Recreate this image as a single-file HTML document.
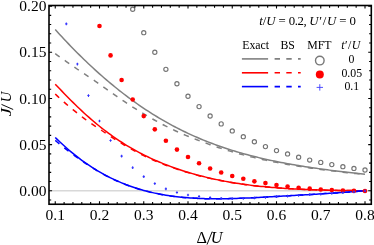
<!DOCTYPE html>
<html><head><meta charset="utf-8"><title>plot</title>
<style>html,body{margin:0;padding:0;background:#fff;}body{width:374px;height:245px;overflow:hidden;}svg{display:block;will-change:transform;}text{font-family:"Liberation Serif",serif;fill:#000;}</style>
</head><body>
<svg width="374" height="245" viewBox="0 0 374 245">
<rect width="374" height="245" fill="#fff"/>
<clipPath id="c"><rect x="49.0" y="5.5" width="322.3" height="198.75"/></clipPath>
<line x1="49.0" y1="190.85" x2="371.3" y2="190.85" stroke="#c4c4c4" stroke-width="1"/>
<g clip-path="url(#c)" fill="none" stroke-width="1.5">
<path d="M55.25,29.58 L57.46,32.02 L59.67,34.44 L61.89,36.84 L64.10,39.21 L66.31,41.55 L68.53,43.87 L70.74,46.17 L72.95,48.44 L75.16,50.69 L77.38,52.91 L79.59,55.11 L81.80,57.29 L84.01,59.44 L86.22,61.57 L88.44,63.67 L90.65,65.75 L92.86,67.80 L95.07,69.83 L97.29,71.84 L99.50,73.82 L101.71,75.78 L103.93,77.71 L106.14,79.62 L108.35,81.50 L110.56,83.36 L112.78,85.19 L114.99,87.00 L117.20,88.79 L119.41,90.55 L121.62,92.28 L123.84,94.00 L126.05,95.68 L128.26,97.35 L130.48,98.98 L132.69,100.60 L134.90,102.19 L137.11,103.75 L139.33,105.29 L141.54,106.81 L143.75,108.30 L145.96,109.77 L148.18,111.21 L150.39,112.63 L152.60,114.03 L154.81,115.41 L157.03,116.76 L159.24,118.08 L161.45,119.39 L163.66,120.67 L165.88,121.93 L168.09,123.17 L170.30,124.38 L172.51,125.58 L174.73,126.75 L176.94,127.90 L179.15,129.03 L181.36,130.13 L183.58,131.22 L185.79,132.28 L188.00,133.33 L190.21,134.35 L192.43,135.36 L194.64,136.35 L196.85,137.31 L199.06,138.26 L201.28,139.19 L203.49,140.10 L205.70,140.99 L207.91,141.86 L210.13,142.72 L212.34,143.56 L214.55,144.38 L216.76,145.18 L218.97,145.97 L221.19,146.74 L223.40,147.50 L225.61,148.24 L227.83,148.96 L230.04,149.67 L232.25,150.36 L234.46,151.04 L236.68,151.71 L238.89,152.36 L241.10,153.00 L243.31,153.62 L245.53,154.23 L247.74,154.83 L249.95,155.41 L252.16,155.99 L254.38,156.55 L256.59,157.09 L258.80,157.63 L261.01,158.16 L263.23,158.67 L265.44,159.17 L267.65,159.67 L269.86,160.15 L272.07,160.62 L274.29,161.09 L276.50,161.54 L278.71,161.98 L280.93,162.42 L283.14,162.84 L285.35,163.26 L287.56,163.67 L289.77,164.07 L291.99,164.46 L294.20,164.85 L296.41,165.22 L298.62,165.59 L300.84,165.96 L303.05,166.31 L305.26,166.66 L307.48,167.00 L309.69,167.34 L311.90,167.67 L314.11,168.00 L316.32,168.31 L318.54,168.63 L320.75,168.94 L322.96,169.24 L325.18,169.54 L327.39,169.83 L329.60,170.12 L331.81,170.41 L334.02,170.69 L336.24,170.97 L338.45,171.24 L340.66,171.51 L342.88,171.77 L345.09,172.04 L347.30,172.30 L349.51,172.55 L351.73,172.81 L353.94,173.06 L356.15,173.31 L358.36,173.55 L360.58,173.80 L362.79,174.04 L365.00,174.28" stroke="#808080"/>
<path d="M55.25,53.71 L57.46,55.29 L59.67,56.87 L61.89,58.44 L64.10,60.00 L66.31,61.55 L68.53,63.10 L70.74,64.64 L72.95,66.18 L75.16,67.72 L77.38,69.25 L79.59,70.76 L81.80,72.24 L84.01,73.70 L86.22,75.16 L88.44,76.63 L90.65,78.11 L92.86,79.60 L95.07,81.11 L97.29,82.65 L99.50,84.21 L101.71,85.79 L103.93,87.37 L106.14,88.95 L108.35,90.52 L110.56,92.08 L112.78,93.64 L114.99,95.18 L117.20,96.72 L119.41,98.24 L121.62,99.75 L123.84,101.24 L126.05,102.72 L128.26,104.18 L130.48,105.62 L132.69,107.04 L134.90,108.45 L137.11,109.83 L139.33,111.20 L141.54,112.54 L143.75,113.87 L145.96,115.17 L148.18,116.47 L150.39,117.74 L152.60,119.00 L154.81,120.24 L157.03,121.46 L159.24,122.66 L161.45,123.84 L163.66,125.00 L165.88,126.14 L168.09,127.25 L170.30,128.34 L172.51,129.41 L174.73,130.46 L176.94,131.48 L179.15,132.48 L181.36,133.46 L183.58,134.41 L185.79,135.35 L188.00,136.26 L190.21,137.17 L192.43,138.05 L194.64,138.92 L196.85,139.78 L199.06,140.62 L201.28,141.46 L203.49,142.28 L205.70,143.08 L207.91,143.88 L210.13,144.67 L212.34,145.44 L214.55,146.20 L216.76,146.95 L218.97,147.68 L221.19,148.40 L223.40,149.11 L225.61,149.80 L227.83,150.48 L230.04,151.14 L232.25,151.80 L234.46,152.44 L236.68,153.06 L238.89,153.68 L241.10,154.28 L243.31,154.87 L245.53,155.45 L247.74,156.01 L249.95,156.57 L252.16,157.11 L254.38,157.64 L256.59,158.16 L258.80,158.67 L261.01,159.17 L263.23,159.65 L265.44,160.13 L267.65,160.60 L269.86,161.06 L272.07,161.51 L274.29,161.94 L276.50,162.37 L278.71,162.79 L280.93,163.21 L283.14,163.61 L285.35,164.01 L287.56,164.39 L289.77,164.77 L291.99,165.15 L294.20,165.51 L296.41,165.87 L298.62,166.23 L300.84,166.57 L303.05,166.91 L305.26,167.24 L307.48,167.57 L309.69,167.89 L311.90,168.21 L314.11,168.52 L316.32,168.82 L318.54,169.12 L320.75,169.42 L322.96,169.71 L325.18,169.99 L327.39,170.28 L329.60,170.55 L331.81,170.83 L334.02,171.10 L336.24,171.36 L338.45,171.62 L340.66,171.88 L342.88,172.14 L345.09,172.39 L347.30,172.64 L349.51,172.89 L351.73,173.14 L353.94,173.38 L356.15,173.62 L358.36,173.86 L360.58,174.09 L362.79,174.33 L365.00,174.56" stroke="#808080" stroke-dasharray="5.4 6.3"/>
<path d="M55.25,84.25 L57.46,86.55 L59.67,88.85 L61.89,91.14 L64.10,93.42 L66.31,95.69 L68.53,97.93 L70.74,100.16 L72.95,102.36 L75.16,104.53 L77.38,106.68 L79.59,108.80 L81.80,110.88 L84.01,112.93 L86.22,114.95 L88.44,116.93 L90.65,118.87 L92.86,120.78 L95.07,122.65 L97.29,124.49 L99.50,126.29 L101.71,128.05 L103.93,129.77 L106.14,131.46 L108.35,133.11 L110.56,134.72 L112.78,136.29 L114.99,137.83 L117.20,139.34 L119.41,140.81 L121.62,142.25 L123.84,143.65 L126.05,145.02 L128.26,146.35 L130.48,147.66 L132.69,148.93 L134.90,150.18 L137.11,151.39 L139.33,152.57 L141.54,153.73 L143.75,154.85 L145.96,155.95 L148.18,157.02 L150.39,158.07 L152.60,159.09 L154.81,160.08 L157.03,161.06 L159.24,162.00 L161.45,162.92 L163.66,163.82 L165.88,164.70 L168.09,165.56 L170.30,166.39 L172.51,167.20 L174.73,168.00 L176.94,168.77 L179.15,169.52 L181.36,170.25 L183.58,170.97 L185.79,171.66 L188.00,172.34 L190.21,173.00 L192.43,173.64 L194.64,174.27 L196.85,174.88 L199.06,175.47 L201.28,176.04 L203.49,176.60 L205.70,177.14 L207.91,177.67 L210.13,178.18 L212.34,178.68 L214.55,179.17 L216.76,179.64 L218.97,180.09 L221.19,180.53 L223.40,180.96 L225.61,181.37 L227.83,181.77 L230.04,182.16 L232.25,182.54 L234.46,182.90 L236.68,183.25 L238.89,183.59 L241.10,183.92 L243.31,184.24 L245.53,184.54 L247.74,184.84 L249.95,185.12 L252.16,185.39 L254.38,185.66 L256.59,185.91 L258.80,186.15 L261.01,186.39 L263.23,186.61 L265.44,186.83 L267.65,187.04 L269.86,187.24 L272.07,187.43 L274.29,187.61 L276.50,187.78 L278.71,187.95 L280.93,188.11 L283.14,188.27 L285.35,188.41 L287.56,188.55 L289.77,188.69 L291.99,188.81 L294.20,188.93 L296.41,189.05 L298.62,189.16 L300.84,189.26 L303.05,189.36 L305.26,189.46 L307.48,189.55 L309.69,189.63 L311.90,189.72 L314.11,189.79 L316.32,189.87 L318.54,189.93 L320.75,190.00 L322.96,190.06 L325.18,190.12 L327.39,190.17 L329.60,190.23 L331.81,190.27 L334.02,190.32 L336.24,190.36 L338.45,190.40 L340.66,190.44 L342.88,190.47 L345.09,190.51 L347.30,190.54 L349.51,190.56 L351.73,190.59 L353.94,190.61 L356.15,190.63 L358.36,190.65 L360.58,190.67 L362.79,190.68 L365.00,190.69" stroke="#ff0000"/>
<path d="M55.25,93.99 L57.46,96.12 L59.67,98.19 L61.89,100.21 L64.10,102.18 L66.31,104.11 L68.53,105.99 L70.74,107.84 L72.95,109.66 L75.16,111.45 L77.38,113.22 L79.59,114.96 L81.80,116.68 L84.01,118.38 L86.22,120.01 L88.44,121.57 L90.65,123.08 L92.86,124.57 L95.07,126.05 L97.29,127.53 L99.50,129.02 L101.71,130.50 L103.93,132.00 L106.14,133.49 L108.35,134.98 L110.56,136.44 L112.78,137.88 L114.99,139.30 L117.20,140.69 L119.41,142.06 L121.62,143.41 L123.84,144.74 L126.05,146.04 L128.26,147.33 L130.48,148.59 L132.69,149.82 L134.90,151.04 L137.11,152.22 L139.33,153.38 L141.54,154.52 L143.75,155.63 L145.96,156.71 L148.18,157.76 L150.39,158.79 L152.60,159.79 L154.81,160.76 L157.03,161.70 L159.24,162.62 L161.45,163.52 L163.66,164.38 L165.88,165.23 L168.09,166.05 L170.30,166.85 L172.51,167.64 L174.73,168.40 L176.94,169.14 L179.15,169.87 L181.36,170.58 L183.58,171.28 L185.79,171.96 L188.00,172.62 L190.21,173.27 L192.43,173.90 L194.64,174.51 L196.85,175.11 L199.06,175.69 L201.28,176.26 L203.49,176.81 L205.70,177.34 L207.91,177.86 L210.13,178.37 L212.34,178.86 L214.55,179.33 L216.76,179.80 L218.97,180.25 L221.19,180.68 L223.40,181.10 L225.61,181.51 L227.83,181.91 L230.04,182.29 L232.25,182.66 L234.46,183.02 L236.68,183.37 L238.89,183.71 L241.10,184.03 L243.31,184.34 L245.53,184.65 L247.74,184.94 L249.95,185.22 L252.16,185.49 L254.38,185.75 L256.59,186.00 L258.80,186.24 L261.01,186.47 L263.23,186.70 L265.44,186.91 L267.65,187.11 L269.86,187.31 L272.07,187.50 L274.29,187.68 L276.50,187.85 L278.71,188.02 L280.93,188.18 L283.14,188.33 L285.35,188.47 L287.56,188.61 L289.77,188.74 L291.99,188.87 L294.20,188.99 L296.41,189.10 L298.62,189.21 L300.84,189.32 L303.05,189.41 L305.26,189.51 L307.48,189.60 L309.69,189.68 L311.90,189.76 L314.11,189.84 L316.32,189.91 L318.54,189.98 L320.75,190.04 L322.96,190.10 L325.18,190.16 L327.39,190.21 L329.60,190.26 L331.81,190.31 L334.02,190.36 L336.24,190.40 L338.45,190.44 L340.66,190.47 L342.88,190.51 L345.09,190.54 L347.30,190.57 L349.51,190.59 L351.73,190.62 L353.94,190.64 L356.15,190.66 L358.36,190.68 L360.58,190.70 L362.79,190.71 L365.00,190.72" stroke="#ff0000" stroke-dasharray="5.4 6.3"/>
<path d="M55.25,137.42 L57.46,139.59 L59.67,141.71 L61.89,143.78 L64.10,145.81 L66.31,147.78 L68.53,149.71 L70.74,151.58 L72.95,153.42 L75.16,155.20 L77.38,156.94 L79.59,158.63 L81.80,160.28 L84.01,161.88 L86.22,163.44 L88.44,164.95 L90.65,166.43 L92.86,167.86 L95.07,169.24 L97.29,170.59 L99.50,171.90 L101.71,173.16 L103.93,174.39 L106.14,175.58 L108.35,176.73 L110.56,177.84 L112.78,178.92 L114.99,179.96 L117.20,180.96 L119.41,181.93 L121.62,182.86 L123.84,183.76 L126.05,184.63 L128.26,185.46 L130.48,186.26 L132.69,187.03 L134.90,187.77 L137.11,188.48 L139.33,189.16 L141.54,189.81 L143.75,190.43 L145.96,191.02 L148.18,191.59 L150.39,192.13 L152.60,192.64 L154.81,193.13 L157.03,193.59 L159.24,194.03 L161.45,194.44 L163.66,194.84 L165.88,195.21 L168.09,195.55 L170.30,195.88 L172.51,196.18 L174.73,196.47 L176.94,196.73 L179.15,196.98 L181.36,197.21 L183.58,197.42 L185.79,197.61 L188.00,197.78 L190.21,197.94 L192.43,198.08 L194.64,198.21 L196.85,198.33 L199.06,198.43 L201.28,198.51 L203.49,198.58 L205.70,198.64 L207.91,198.69 L210.13,198.73 L212.34,198.75 L214.55,198.77 L216.76,198.77 L218.97,198.76 L221.19,198.75 L223.40,198.73 L225.61,198.69 L227.83,198.65 L230.04,198.61 L232.25,198.55 L234.46,198.49 L236.68,198.42 L238.89,198.35 L241.10,198.27 L243.31,198.18 L245.53,198.09 L247.74,198.00 L249.95,197.90 L252.16,197.80 L254.38,197.69 L256.59,197.58 L258.80,197.47 L261.01,197.36 L263.23,197.24 L265.44,197.12 L267.65,197.00 L269.86,196.87 L272.07,196.75 L274.29,196.62 L276.50,196.49 L278.71,196.37 L280.93,196.24 L283.14,196.11 L285.35,195.98 L287.56,195.85 L289.77,195.71 L291.99,195.58 L294.20,195.45 L296.41,195.32 L298.62,195.19 L300.84,195.05 L303.05,194.92 L305.26,194.79 L307.48,194.66 L309.69,194.52 L311.90,194.39 L314.11,194.26 L316.32,194.13 L318.54,193.99 L320.75,193.86 L322.96,193.72 L325.18,193.59 L327.39,193.45 L329.60,193.31 L331.81,193.17 L334.02,193.03 L336.24,192.89 L338.45,192.74 L340.66,192.59 L342.88,192.44 L345.09,192.29 L347.30,192.13 L349.51,191.97 L351.73,191.80 L353.94,191.63 L356.15,191.46 L358.36,191.28 L360.58,191.09 L362.79,190.90 L365.00,190.70" stroke="#0000ff"/>
<path d="M55.25,140.39 L57.46,142.24 L59.67,144.07 L61.89,145.87 L64.10,147.64 L66.31,149.38 L68.53,151.10 L70.74,152.78 L72.95,154.42 L75.16,156.04 L77.38,157.64 L79.59,159.21 L81.80,160.77 L84.01,162.30 L86.22,163.81 L88.44,165.28 L90.65,166.72 L92.86,168.12 L95.07,169.48 L97.29,170.81 L99.50,172.09 L101.71,173.34 L103.93,174.55 L106.14,175.72 L108.35,176.86 L110.56,177.96 L112.78,179.03 L114.99,180.06 L117.20,181.05 L119.41,182.02 L121.62,182.94 L123.84,183.84 L126.05,184.70 L128.26,185.53 L130.48,186.33 L132.69,187.09 L134.90,187.83 L137.11,188.53 L139.33,189.21 L141.54,189.86 L143.75,190.48 L145.96,191.07 L148.18,191.63 L150.39,192.17 L152.60,192.68 L154.81,193.17 L157.03,193.63 L159.24,194.07 L161.45,194.48 L163.66,194.87 L165.88,195.24 L168.09,195.59 L170.30,195.91 L172.51,196.21 L174.73,196.50 L176.94,196.76 L179.15,197.01 L181.36,197.23 L183.58,197.44 L185.79,197.63 L188.00,197.81 L190.21,197.97 L192.43,198.11 L194.64,198.24 L196.85,198.35 L199.06,198.45 L201.28,198.53 L203.49,198.61 L205.70,198.67 L207.91,198.71 L210.13,198.75 L212.34,198.77 L214.55,198.79 L216.76,198.79 L218.97,198.78 L221.19,198.77 L223.40,198.74 L225.61,198.71 L227.83,198.67 L230.04,198.62 L232.25,198.57 L234.46,198.51 L236.68,198.44 L238.89,198.36 L241.10,198.28 L243.31,198.20 L245.53,198.11 L247.74,198.01 L249.95,197.92 L252.16,197.81 L254.38,197.71 L256.59,197.60 L258.80,197.48 L261.01,197.37 L263.23,197.25 L265.44,197.13 L267.65,197.01 L269.86,196.89 L272.07,196.76 L274.29,196.63 L276.50,196.51 L278.71,196.38 L280.93,196.25 L283.14,196.12 L285.35,195.99 L287.56,195.86 L289.77,195.73 L291.99,195.59 L294.20,195.46 L296.41,195.33 L298.62,195.20 L300.84,195.06 L303.05,194.93 L305.26,194.80 L307.48,194.67 L309.69,194.53 L311.90,194.40 L314.11,194.27 L316.32,194.14 L318.54,194.00 L320.75,193.87 L322.96,193.73 L325.18,193.60 L327.39,193.46 L329.60,193.32 L331.81,193.18 L334.02,193.04 L336.24,192.90 L338.45,192.75 L340.66,192.60 L342.88,192.45 L345.09,192.30 L347.30,192.14 L349.51,191.98 L351.73,191.81 L353.94,191.64 L356.15,191.47 L358.36,191.29 L360.58,191.10 L362.79,190.91 L365.00,190.71" stroke="#0000ff" stroke-dasharray="5.4 6.3"/>
</g>
<g clip-path="url(#c)">
<circle cx="132.69" cy="9.28" r="2.1" fill="#fff" stroke="#747474" stroke-width="1.15"/>
<circle cx="143.75" cy="32.66" r="2.1" fill="#fff" stroke="#747474" stroke-width="1.15"/>
<circle cx="154.81" cy="52.24" r="2.1" fill="#fff" stroke="#747474" stroke-width="1.15"/>
<circle cx="165.88" cy="69.32" r="2.1" fill="#fff" stroke="#747474" stroke-width="1.15"/>
<circle cx="176.94" cy="83.79" r="2.1" fill="#fff" stroke="#747474" stroke-width="1.15"/>
<circle cx="188.00" cy="96.23" r="2.1" fill="#fff" stroke="#747474" stroke-width="1.15"/>
<circle cx="199.06" cy="106.62" r="2.1" fill="#fff" stroke="#747474" stroke-width="1.15"/>
<circle cx="210.12" cy="116.00" r="2.1" fill="#fff" stroke="#747474" stroke-width="1.15"/>
<circle cx="221.19" cy="123.88" r="2.1" fill="#fff" stroke="#747474" stroke-width="1.15"/>
<circle cx="232.25" cy="130.94" r="2.1" fill="#fff" stroke="#747474" stroke-width="1.15"/>
<circle cx="243.31" cy="136.69" r="2.1" fill="#fff" stroke="#747474" stroke-width="1.15"/>
<circle cx="254.38" cy="141.79" r="2.1" fill="#fff" stroke="#747474" stroke-width="1.15"/>
<circle cx="265.44" cy="146.62" r="2.1" fill="#fff" stroke="#747474" stroke-width="1.15"/>
<circle cx="276.50" cy="150.61" r="2.1" fill="#fff" stroke="#747474" stroke-width="1.15"/>
<circle cx="287.56" cy="153.95" r="2.1" fill="#fff" stroke="#747474" stroke-width="1.15"/>
<circle cx="298.62" cy="157.29" r="2.1" fill="#fff" stroke="#747474" stroke-width="1.15"/>
<circle cx="309.69" cy="160.08" r="2.1" fill="#fff" stroke="#747474" stroke-width="1.15"/>
<circle cx="320.75" cy="162.40" r="2.1" fill="#fff" stroke="#747474" stroke-width="1.15"/>
<circle cx="331.81" cy="164.62" r="2.1" fill="#fff" stroke="#747474" stroke-width="1.15"/>
<circle cx="342.88" cy="166.66" r="2.1" fill="#fff" stroke="#747474" stroke-width="1.15"/>
<circle cx="353.94" cy="168.43" r="2.1" fill="#fff" stroke="#747474" stroke-width="1.15"/>
<circle cx="365.00" cy="170.01" r="2.1" fill="#fff" stroke="#747474" stroke-width="1.15"/>
<circle cx="99.50" cy="25.98" r="2.3" fill="#ff0000"/>
<circle cx="110.56" cy="55.40" r="2.3" fill="#ff0000"/>
<circle cx="121.62" cy="79.99" r="2.3" fill="#ff0000"/>
<circle cx="132.69" cy="99.48" r="2.3" fill="#ff0000"/>
<circle cx="143.75" cy="116.09" r="2.3" fill="#ff0000"/>
<circle cx="154.81" cy="129.36" r="2.3" fill="#ff0000"/>
<circle cx="165.88" cy="140.77" r="2.3" fill="#ff0000"/>
<circle cx="176.94" cy="149.59" r="2.3" fill="#ff0000"/>
<circle cx="188.00" cy="157.01" r="2.3" fill="#ff0000"/>
<circle cx="199.06" cy="163.23" r="2.3" fill="#ff0000"/>
<circle cx="210.12" cy="168.52" r="2.3" fill="#ff0000"/>
<circle cx="221.19" cy="172.51" r="2.3" fill="#ff0000"/>
<circle cx="232.25" cy="176.04" r="2.3" fill="#ff0000"/>
<circle cx="243.31" cy="178.82" r="2.3" fill="#ff0000"/>
<circle cx="254.38" cy="181.33" r="2.3" fill="#ff0000"/>
<circle cx="265.44" cy="183.09" r="2.3" fill="#ff0000"/>
<circle cx="276.50" cy="184.95" r="2.3" fill="#ff0000"/>
<circle cx="287.56" cy="186.43" r="2.3" fill="#ff0000"/>
<circle cx="298.62" cy="187.73" r="2.3" fill="#ff0000"/>
<circle cx="309.69" cy="188.66" r="2.3" fill="#ff0000"/>
<circle cx="320.75" cy="189.49" r="2.3" fill="#ff0000"/>
<circle cx="331.81" cy="189.96" r="2.3" fill="#ff0000"/>
<circle cx="342.88" cy="190.51" r="2.3" fill="#ff0000"/>
<circle cx="353.94" cy="190.70" r="2.3" fill="#ff0000"/>
<circle cx="365.00" cy="190.98" r="2.3" fill="#ff0000"/>
<path d="M65.21,23.86h2.2M66.31,22.51v2.7M76.28,64.04h2.2M77.38,62.69v2.7M87.34,95.59h2.2M88.44,94.24v2.7M98.40,121.02h2.2M99.50,119.67v2.7M109.46,140.51h2.2M110.56,139.16v2.7M120.53,156.10h2.2M121.62,154.75v2.7M131.59,167.70h2.2M132.69,166.35v2.7M142.65,176.61h2.2M143.75,175.26v2.7M153.71,183.57h2.2M154.81,182.22v2.7M164.78,188.86h2.2M165.88,187.51v2.7M175.84,192.48h2.2M176.94,191.13v2.7M186.90,194.98h2.2M188.00,193.63v2.7M197.96,196.47h2.2M199.06,195.12v2.7M209.03,197.49h2.2M210.12,196.14v2.7M220.09,198.32h2.2M221.19,196.97v2.7M231.15,198.75h2.2M232.25,197.40v2.7M242.21,198.38h2.2M243.31,197.03v2.7M253.28,197.89h2.2M254.38,196.54v2.7M264.34,197.32h2.2M265.44,195.97v2.7M275.40,196.69h2.2M276.50,195.34v2.7M286.46,196.05h2.2M287.56,194.70v2.7M297.53,195.39h2.2M298.63,194.04v2.7M308.59,194.72h2.2M309.69,193.37v2.7M319.65,194.06h2.2M320.75,192.71v2.7M330.71,193.37h2.2M331.81,192.02v2.7M341.78,192.64h2.2M342.88,191.29v2.7M352.84,191.83h2.2M353.94,190.48v2.7M363.90,190.90h2.2M365.00,189.55v2.7" stroke="#3030ff" stroke-width="1.05" fill="none"/>
</g>
<rect x="49.0" y="5.5" width="322.3" height="198.75" fill="none" stroke="#000" stroke-width="1.6"/>
<path d="M55.25,204.25v-3.1M55.25,5.5v3.1M64.10,204.25v-2.2M64.10,5.5v2.2M72.95,204.25v-2.2M72.95,5.5v2.2M81.80,204.25v-2.2M81.80,5.5v2.2M90.65,204.25v-2.2M90.65,5.5v2.2M99.50,204.25v-3.1M99.50,5.5v3.1M108.35,204.25v-2.2M108.35,5.5v2.2M117.20,204.25v-2.2M117.20,5.5v2.2M126.05,204.25v-2.2M126.05,5.5v2.2M134.90,204.25v-2.2M134.90,5.5v2.2M143.75,204.25v-3.1M143.75,5.5v3.1M152.60,204.25v-2.2M152.60,5.5v2.2M161.45,204.25v-2.2M161.45,5.5v2.2M170.30,204.25v-2.2M170.30,5.5v2.2M179.15,204.25v-2.2M179.15,5.5v2.2M188.00,204.25v-3.1M188.00,5.5v3.1M196.85,204.25v-2.2M196.85,5.5v2.2M205.70,204.25v-2.2M205.70,5.5v2.2M214.55,204.25v-2.2M214.55,5.5v2.2M223.40,204.25v-2.2M223.40,5.5v2.2M232.25,204.25v-3.1M232.25,5.5v3.1M241.10,204.25v-2.2M241.10,5.5v2.2M249.95,204.25v-2.2M249.95,5.5v2.2M258.80,204.25v-2.2M258.80,5.5v2.2M267.65,204.25v-2.2M267.65,5.5v2.2M276.50,204.25v-3.1M276.50,5.5v3.1M285.35,204.25v-2.2M285.35,5.5v2.2M294.20,204.25v-2.2M294.20,5.5v2.2M303.05,204.25v-2.2M303.05,5.5v2.2M311.90,204.25v-2.2M311.90,5.5v2.2M320.75,204.25v-3.1M320.75,5.5v3.1M329.60,204.25v-2.2M329.60,5.5v2.2M338.45,204.25v-2.2M338.45,5.5v2.2M347.30,204.25v-2.2M347.30,5.5v2.2M356.15,204.25v-2.2M356.15,5.5v2.2M365.00,204.25v-3.1M365.00,5.5v3.1M49.0,200.04h2.2M371.3,200.04h-2.2M49.0,190.80h3.1M371.3,190.80h-3.1M49.0,181.56h2.2M371.3,181.56h-2.2M49.0,172.33h2.2M371.3,172.33h-2.2M49.0,163.10h2.2M371.3,163.10h-2.2M49.0,153.86h2.2M371.3,153.86h-2.2M49.0,144.62h3.1M371.3,144.62h-3.1M49.0,135.39h2.2M371.3,135.39h-2.2M49.0,126.16h2.2M371.3,126.16h-2.2M49.0,116.92h2.2M371.3,116.92h-2.2M49.0,107.69h2.2M371.3,107.69h-2.2M49.0,98.45h3.1M371.3,98.45h-3.1M49.0,89.22h2.2M371.3,89.22h-2.2M49.0,79.98h2.2M371.3,79.98h-2.2M49.0,70.75h2.2M371.3,70.75h-2.2M49.0,61.51h2.2M371.3,61.51h-2.2M49.0,52.28h3.1M371.3,52.28h-3.1M49.0,43.04h2.2M371.3,43.04h-2.2M49.0,33.81h2.2M371.3,33.81h-2.2M49.0,24.57h2.2M371.3,24.57h-2.2M49.0,15.34h2.2M371.3,15.34h-2.2M49.0,6.10h3.1M371.3,6.10h-3.1" stroke="#000" stroke-width="1.1" fill="none"/>
<g font-size="15.5px" text-anchor="middle">
<text x="55.25" y="220.1">0.1</text>
<text x="99.50" y="220.1">0.2</text>
<text x="143.75" y="220.1">0.3</text>
<text x="188.00" y="220.1">0.4</text>
<text x="232.25" y="220.1">0.5</text>
<text x="276.50" y="220.1">0.6</text>
<text x="320.75" y="220.1">0.7</text>
<text x="365.00" y="220.1">0.8</text>
</g>
<g font-size="15.5px" text-anchor="end">
<text x="46.4" y="196.00">0.00</text>
<text x="46.4" y="149.82">0.05</text>
<text x="46.4" y="103.65">0.10</text>
<text x="46.4" y="57.48">0.15</text>
<text x="46.4" y="11.30">0.20</text>
</g>
<text x="196.6" y="242.6" font-size="16.2px">Δ</text>
<line x1="207.0" y1="244.6" x2="212.2" y2="231.6" stroke="#000" stroke-width="0.95"/>
<text x="210.7" y="242.6" font-size="16.2px" font-style="italic">U</text>
<text transform="translate(11.0,102.2) rotate(-90)" font-size="14.5px" font-style="italic">U</text>
<line x1="13.2" y1="109.5" x2="1.5" y2="104.4" stroke="#000" stroke-width="0.95"/>
<text transform="translate(11.0,116.3) rotate(-90) scale(1.28,1)" font-size="14.5px" font-style="italic">J</text>
<text x="259.2" y="24.7" font-size="12.8px" letter-spacing="-0.08"><tspan font-style="italic">t</tspan>/<tspan font-style="italic">U</tspan> = <tspan letter-spacing="-0.4">0.2,</tspan></text>
<text x="309.3" y="24.7" font-size="12.8px" letter-spacing="0.7"><tspan font-style="italic">U</tspan>′/<tspan font-style="italic">U</tspan></text>
<text x="339.3" y="24.7" font-size="12.8px" letter-spacing="-0.1">= 0</text>
<g font-size="11.8px" text-anchor="middle">
<text x="255.7" y="48.6">Exact</text>
<text x="287.7" y="48.6">BS</text>
<text x="319.4" y="48.6">MFT</text>
<text x="351.0" y="48.6" letter-spacing="0.4"><tspan font-style="italic">t</tspan>′/<tspan font-style="italic">U</tspan></text>
<text x="351.4" y="62.9">0</text>
<text x="351.8" y="77.0">0.05</text>
<text x="351.8" y="90.4">0.1</text>
</g>
<line x1="241.9" y1="58.9" x2="268.1" y2="58.9" stroke="#808080" stroke-width="1.6"/>
<line x1="274.6" y1="58.9" x2="300.7" y2="58.9" stroke="#808080" stroke-width="1.6" stroke-dasharray="5.4 6.3"/>
<line x1="241.9" y1="72.8" x2="268.1" y2="72.8" stroke="#ff0000" stroke-width="1.6"/>
<line x1="274.6" y1="72.8" x2="300.7" y2="72.8" stroke="#ff0000" stroke-width="1.6" stroke-dasharray="5.4 6.3"/>
<line x1="241.9" y1="86.6" x2="268.1" y2="86.6" stroke="#0000ff" stroke-width="1.6"/>
<line x1="274.6" y1="86.6" x2="300.7" y2="86.6" stroke="#0000ff" stroke-width="1.6" stroke-dasharray="5.4 6.3"/>
<circle cx="319.8" cy="60.6" r="4.3" fill="#fff" stroke="#787878" stroke-width="1.4"/>
<circle cx="319.8" cy="74.4" r="4.0" fill="#ff0000"/>
<path d="M316.6,87.4h6.4M319.8,84.2v6.4" stroke="#3c3cff" stroke-width="0.9" fill="none"/>
</svg></body></html>
